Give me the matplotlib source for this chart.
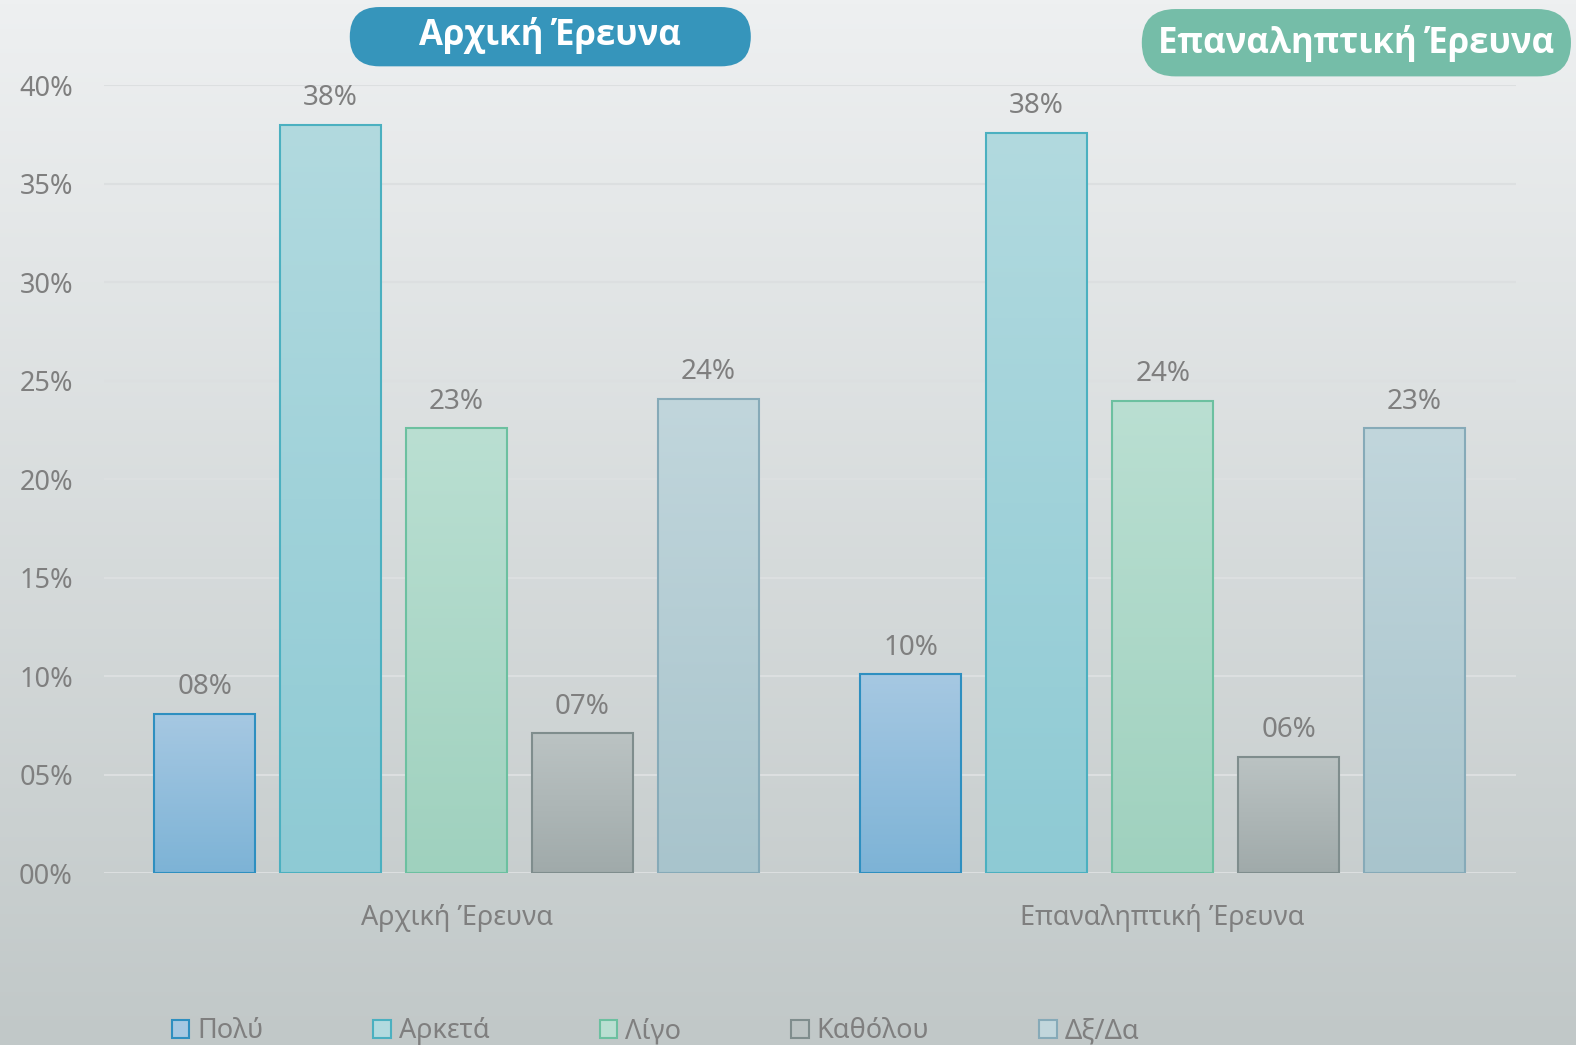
import matplotlib
matplotlib.use("Agg")
import matplotlib.pyplot as plt
import numpy as np
from matplotlib.patches import FancyBboxPatch, Patch
from matplotlib.colors import LinearSegmentedColormap

plt.rcParams['font.family'] = ['Noto Sans', 'DejaVu Sans']

# ---------------- data ----------------
groups = ["Αρχική Έρευνα", "Επαναληπτική Έρευνα"]
series = ["Πολύ", "Αρκετά", "Λίγο", "Καθόλου", "Δξ/Δα"]
polu = [0.081, 0.101]
arketa = [0.380, 0.376]
ligo = [0.226, 0.240]
katholou = [0.071, 0.059]
dxda = [0.241, 0.226]
yticks = [0.0, 0.05, 0.10, 0.15, 0.20, 0.25, 0.30, 0.35, 0.40]
ytick_labels = ["00%", "05%", "10%", "15%", "20%", "25%", "30%", "35%", "40%"]
values = [polu, arketa, ligo, katholou, dxda]

# styles
tops = ["#a6c8e2", "#b2dadf", "#badfd2", "#bbc3c3", "#c1d6dc"]
bottoms = ["#7db3d6", "#8ecad4", "#9fd1be", "#a0aaaa", "#a8c4cc"]
edges = ["#2e8fc0", "#4bb0c0", "#6cc0a0", "#7f8d8d", "#86aab8"]
text_gray = "#7f7f7f"

W, H = 1576, 1045
fig = plt.figure(figsize=(W / 100, H / 100), dpi=100)

# background axes in pixel coordinates
bg = fig.add_axes([0, 0, 1, 1], zorder=0)
bg.set_xlim(0, W)
bg.set_ylim(H, 0)
bg.axis("off")
grad = np.linspace(0, 1, 256).reshape(-1, 1)
bgcmap = LinearSegmentedColormap.from_list("bg", ["#eef0f1", "#c1c8c8"])
bg.imshow(grad, cmap=bgcmap, extent=(0, W, H, 0), aspect="auto", zorder=0)


def pill(x0, x1, y0, y1, color, text, fs, dy):
    h = y1 - y0
    p = FancyBboxPatch((x0, y0), x1 - x0, h,
                       boxstyle=f"round,pad=0,rounding_size={h/2}",
                       facecolor=color, edgecolor="none", zorder=2)
    bg.add_patch(p)
    bg.text((x0 + x1) / 2, (y0 + y1) / 2 + dy, text, color="white", fontsize=fs,
            fontweight="bold", family=["Open Sans", "DejaVu Sans"],
            ha="center", va="center", zorder=3)


s = W / 1568
pill(348 * s, 747 * s, 7 * s, 66 * s, "#3695bb", groups[0], 25, -1)
pill(1136 * s, 1563 * s, 9 * s, 76 * s, "#75bda8", groups[1], 25, 1)

# main axes
ax = fig.add_axes([103 / 1568, 1 - 869 / 1040, (1508 - 103) / 1568, (869 - 85) / 1040], zorder=1)
ax.patch.set_visible(False)

x = np.arange(len(groups))
step = 0.1784
width = 0.1438
for i, (name, vals) in enumerate(zip(series, values)):
    xs = x + (i - 2) * step
    bars = ax.bar(xs, vals, width=width, facecolor="none", edgecolor=edges[i],
                  linewidth=1.5, zorder=3, label=name)
    cmap = LinearSegmentedColormap.from_list(f"c{i}", [bottoms[i], tops[i]])
    for b, v in zip(bars, vals):
        bx, by = b.get_x(), b.get_y()
        bw, bh = b.get_width(), b.get_height()
        im = ax.imshow(grad, cmap=cmap, origin="lower",
                       extent=(bx, bx + bw, by, by + bh), aspect="auto", zorder=2)
        im.set_clip_path(b)
        ax.annotate(f"{v*100:02.0f}%", (bx + bw / 2, v), xytext=(0, 9),
                    textcoords="offset points", ha="center", va="bottom",
                    fontsize=20, color=text_gray)

ax.set_xlim(-0.5, 1.5)
ax.set_ylim(0, 0.40)
ax.set_yticks(yticks)
ax.set_yticklabels(ytick_labels)
ax.set_xticks(x)
ax.set_xticklabels(groups)
ax.tick_params(axis="y", length=0, pad=22, labelsize=19.5, labelcolor=text_gray)
ax.tick_params(axis="x", length=0, pad=22, labelsize=19.5, labelcolor=text_gray)
ax.grid(axis="y", color="#dcdfe0", linewidth=1.5, zorder=1)
ax.set_axisbelow(True)
for sp in ax.spines.values():
    sp.set_visible(False)
ax.axhline(0, color="#dcdfe0", linewidth=1.5, zorder=1)

handles = [Patch(facecolor=tops[i], edgecolor=edges[i], linewidth=1.5, label=series[i])
           for i in range(len(series))]
fig.legend(handles=handles, loc="center", bbox_to_anchor=(0.416, 0.013), ncol=5,
           frameon=False, fontsize=19.5, labelcolor=text_gray, handlelength=0.65,
           handleheight=0.65, handletextpad=0.3, columnspacing=4.05)

fig.savefig("out.png", dpi=100)
